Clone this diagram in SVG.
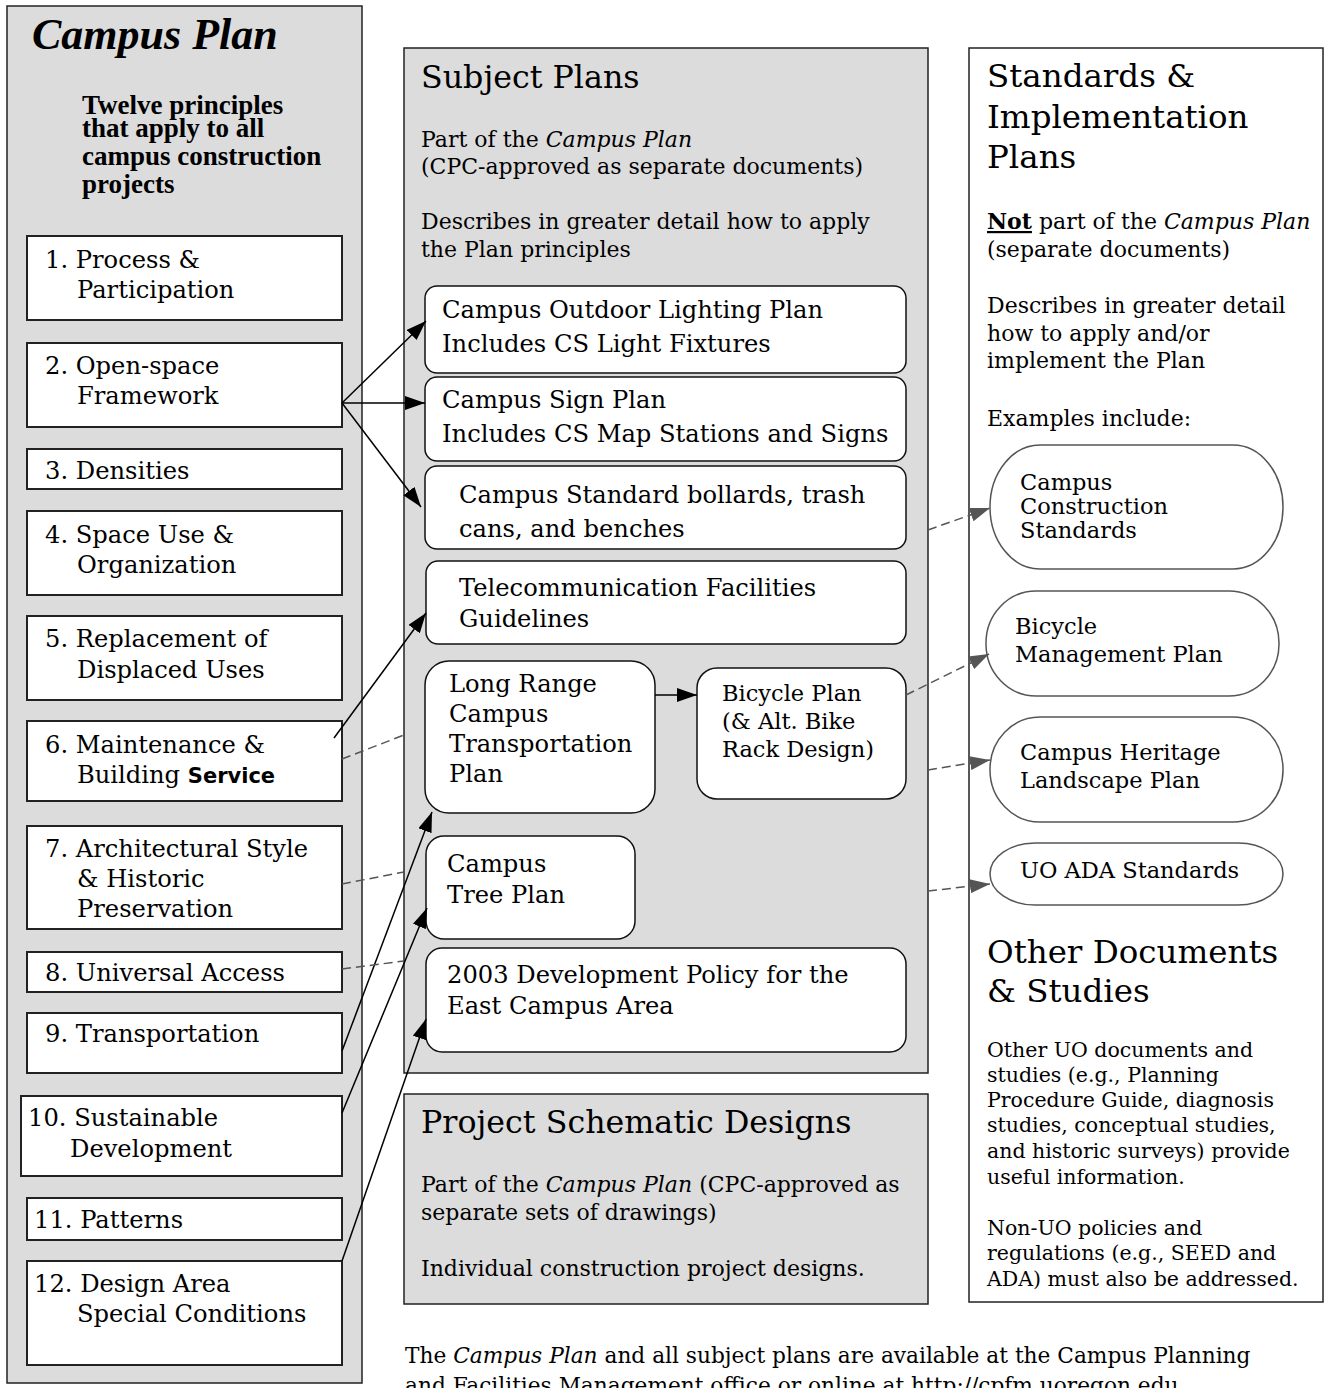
<svg xmlns="http://www.w3.org/2000/svg" width="1326" height="1388" viewBox="0 0 1326 1388">
<style>
text{font-family:"DejaVu Serif","Liberation Serif",serif;fill:#000}
.title{font-family:"Liberation Serif",serif;font-weight:bold;font-style:italic;font-size:44px}
.intro{font-family:"Liberation Serif",serif;font-weight:bold;font-size:27px}
.h{font-size:32.5px}
.h2{font-size:31.7px}
.b{font-size:24.2px}
.d{font-size:22px}
.n{font-size:21.7px}
.o{font-size:22.5px}
.s{font-size:20.5px}
.panel{fill:#dcdcdc;stroke:#222;stroke-width:1.5}
.wpanel{fill:#fff;stroke:#222;stroke-width:1.5}
.sq{fill:#fff;stroke:#222;stroke-width:2}
.rb{fill:#fff;stroke:#111;stroke-width:1.5}
.ov{fill:#fff;stroke:#555;stroke-width:1.5}
.arr{stroke:#000;stroke-width:1.5;fill:none;marker-end:url(#ah)}
.dash{stroke:#555;stroke-width:1.5;fill:none;stroke-dasharray:9 5}
.darr{stroke:#555;stroke-width:1.5;fill:none;stroke-dasharray:9 5;marker-end:url(#ahg)}
</style>
<defs>
<marker id="ah" viewBox="0 0 20 14" refX="20" refY="7" markerWidth="20" markerHeight="14" markerUnits="userSpaceOnUse" orient="auto"><path d="M0,0 L20,7 L0,14 z" fill="#000"/></marker>
<marker id="ahg" viewBox="0 0 20 14" refX="20" refY="7" markerWidth="20" markerHeight="14" markerUnits="userSpaceOnUse" orient="auto"><path d="M0,0 L20,7 L0,14 z" fill="#555"/></marker>
</defs>
<rect width="1326" height="1388" fill="#fff"/>

<g id="campus-plan">
<rect class="panel" x="7" y="6" width="355" height="1377"/>
<text class="title" x="32" y="49">Campus Plan</text>
<text class="intro" x="82" y="114">Twelve principles</text>
<text class="intro" x="82" y="137">that apply to all</text>
<text class="intro" x="82" y="165">campus construction</text>
<text class="intro" x="82" y="193">projects</text>
</g>

<g id="p1"><rect class="sq" x="27" y="236" width="315" height="84"/><text class="b" x="45" y="268">1. Process &amp;</text><text class="b" x="77" y="298">Participation</text></g>
<g id="p2"><rect class="sq" x="27" y="343" width="315" height="84"/><text class="b" x="45" y="374">2. Open-space</text><text class="b" x="77" y="404">Framework</text></g>
<g id="p3"><rect class="sq" x="27" y="449" width="315" height="40"/><text class="b" x="45" y="479">3. Densities</text></g>
<g id="p4"><rect class="sq" x="27" y="511" width="315" height="84"/><text class="b" x="45" y="543">4. Space Use &amp;</text><text class="b" x="77" y="573">Organization</text></g>
<g id="p5"><rect class="sq" x="27" y="616" width="315" height="84"/><text class="b" x="45" y="647">5. Replacement of</text><text class="b" x="77" y="678">Displaced Uses</text></g>
<g id="p6"><rect class="sq" x="27" y="721" width="315" height="80"/><text class="b" x="45" y="753">6. Maintenance &amp;</text><text class="b" x="77" y="783">Building <tspan font-family="DejaVu Sans,sans-serif" font-weight="bold" font-size="21px">Service</tspan></text></g>
<g id="p7"><rect class="sq" x="27" y="826" width="315" height="103"/><text class="b" x="45" y="857">7. Architectural Style</text><text class="b" x="77" y="887">&amp; Historic</text><text class="b" x="77" y="917">Preservation</text></g>
<g id="p8"><rect class="sq" x="27" y="952" width="315" height="40"/><text class="b" x="45" y="981">8. Universal Access</text></g>
<g id="p9"><rect class="sq" x="27" y="1013" width="315" height="60"/><text class="b" x="45" y="1042">9. Transportation</text></g>
<g id="p10"><rect class="sq" x="21" y="1096" width="321" height="80"/><text class="b" x="28" y="1126">10. Sustainable</text><text class="b" x="70" y="1157">Development</text></g>
<g id="p11"><rect class="sq" x="27" y="1198" width="315" height="42"/><text class="b" x="34" y="1228">11. Patterns</text></g>
<g id="p12"><rect class="sq" x="27" y="1261" width="315" height="104"/><text class="b" x="34" y="1292">12. Design Area</text><text class="b" x="77" y="1322">Special Conditions</text></g>

<g id="subject-plans">
<rect class="panel" x="404" y="48" width="524" height="1025"/>
<text class="h2" x="421" y="88">Subject Plans</text>
<text class="d" x="421" y="147">Part of the <tspan font-style="italic">Campus Plan</tspan></text>
<text class="d" x="421" y="174">(CPC-approved as separate documents)</text>
<text class="d" x="421" y="229">Describes in greater detail how to apply</text>
<text class="d" x="421" y="257">the Plan principles</text>
</g>

<g id="lighting"><rect class="rb" x="425" y="286" width="481" height="87" rx="12"/><text class="b" x="442" y="318">Campus Outdoor Lighting Plan</text><text class="b" x="442" y="352">Includes CS Light Fixtures</text></g>
<g id="sign"><rect class="rb" x="425" y="377" width="481" height="84" rx="12"/><text class="b" x="442" y="408">Campus Sign Plan</text><text class="b" x="442" y="442">Includes CS Map Stations and Signs</text></g>
<g id="bollards"><rect class="rb" x="425" y="466" width="481" height="83" rx="12"/><text class="b" x="459" y="503">Campus Standard bollards, trash</text><text class="b" x="459" y="537">cans, and benches</text></g>
<g id="telecom"><rect class="rb" x="426" y="561" width="480" height="83" rx="12"/><text class="b" x="459" y="596">Telecommunication Facilities</text><text class="b" x="459" y="627">Guidelines</text></g>
<g id="transport"><rect class="rb" x="425" y="661" width="230" height="152" rx="24"/><text class="b" x="449" y="692">Long Range</text><text class="b" x="449" y="722">Campus</text><text class="b" x="449" y="752">Transportation</text><text class="b" x="449" y="782">Plan</text></g>
<g id="bicycle"><rect class="rb" x="697" y="668" width="209" height="131" rx="20"/><text class="o" x="722" y="701">Bicycle Plan</text><text class="o" x="722" y="729">(&amp; Alt. Bike</text><text class="o" x="722" y="757">Rack Design)</text></g>
<g id="tree"><rect class="rb" x="426" y="836" width="209" height="103" rx="18"/><text class="b" x="447" y="872">Campus</text><text class="b" x="447" y="903">Tree Plan</text></g>
<g id="east-campus"><rect class="rb" x="426" y="948" width="480" height="104" rx="16"/><text class="b" x="447" y="983">2003 Development Policy for the</text><text class="b" x="447" y="1014">East Campus Area</text></g>

<g id="schematic">
<rect class="panel" x="404" y="1094" width="524" height="210"/>
<text class="h2" x="421" y="1133">Project Schematic Designs</text>
<text class="d" x="421" y="1192">Part of the <tspan font-style="italic">Campus Plan</tspan> (CPC-approved as</text>
<text class="d" x="421" y="1220">separate sets of drawings)</text>
<text class="d" x="421" y="1276">Individual construction project designs.</text>
</g>

<g id="standards">
<rect class="wpanel" x="969" y="48" width="354" height="1254"/>
<text class="h" x="987" y="87">Standards &amp;</text>
<text class="h" x="987" y="128">Implementation</text>
<text class="h" x="987" y="168">Plans</text>
<text class="d" x="987" y="229" font-size="21.5px"><tspan font-weight="bold" text-decoration="underline">Not</tspan> part of the <tspan font-style="italic">Campus Plan</tspan></text>
<text class="d" x="987" y="257">(separate documents)</text>
<text class="d" x="987" y="313">Describes in greater detail</text>
<text class="d" x="987" y="341">how to apply and/or</text>
<text class="d" x="987" y="368">implement the Plan</text>
<text class="d" x="987" y="426">Examples include:</text>
<text class="h" x="987" y="963">Other Documents</text>
<text class="h" x="987" y="1002">&amp; Studies</text>
<text class="s" x="987" y="1057">Other UO documents and</text>
<text class="s" x="987" y="1082">studies (e.g., Planning</text>
<text class="s" x="987" y="1107">Procedure Guide, diagnosis</text>
<text class="s" x="987" y="1132">studies, conceptual studies,</text>
<text class="s" x="987" y="1158">and historic surveys) provide</text>
<text class="s" x="987" y="1184">useful information.</text>
<text class="s" x="987" y="1235">Non-UO policies and</text>
<text class="s" x="987" y="1260">regulations (e.g., SEED and</text>
<text class="s" x="987" y="1286">ADA) must also be addressed.</text>
</g>

<g id="construction-standards"><rect class="ov" x="990" y="445" width="293" height="124" rx="50" ry="62"/><text class="o" x="1020" y="490">Campus</text><text class="o" x="1020" y="514">Construction</text><text class="o" x="1020" y="538">Standards</text></g>
<g id="bicycle-management"><rect class="ov" x="986" y="591" width="293" height="105" rx="50" ry="52"/><text class="o" x="1015" y="634">Bicycle</text><text class="o" x="1015" y="662">Management Plan</text></g>
<g id="heritage"><rect class="ov" x="990" y="717" width="293" height="105" rx="50" ry="52"/><text class="o" x="1020" y="760">Campus Heritage</text><text class="o" x="1020" y="788">Landscape Plan</text></g>
<g id="ada"><rect class="ov" x="990" y="843" width="293" height="62" rx="45" ry="31"/><text class="o" x="1020" y="878">UO ADA Standards</text></g>

<g id="note">
<text class="n" x="405" y="1363">The <tspan font-style="italic">Campus Plan</tspan> and all subject plans are available at the Campus Planning</text>
<text class="n" x="405" y="1393">and Facilities Management office or online at http://cpfm.uoregon.edu</text>
</g>

<g id="connectors">
<line class="arr" x1="342" y1="403" x2="426" y2="321"/>
<line class="arr" x1="342" y1="403" x2="425" y2="403"/>
<line class="arr" x1="342" y1="403" x2="421" y2="507"/>
<line class="arr" x1="334" y1="738" x2="426" y2="613"/>
<line class="arr" x1="342" y1="1051" x2="432" y2="812"/>
<line class="arr" x1="342" y1="1113" x2="427" y2="908"/>
<line class="arr" x1="342" y1="1261" x2="426" y2="1019"/>
<line class="arr" x1="655" y1="695" x2="697" y2="695"/>
<line class="dash" x1="342" y1="759" x2="404" y2="735"/>
<line class="dash" x1="342" y1="884" x2="404" y2="872"/>
<line class="dash" x1="342" y1="969" x2="404" y2="961"/>
<line class="darr" x1="928" y1="530" x2="990" y2="508"/>
<line class="darr" x1="906" y1="695" x2="989" y2="654"/>
<line class="darr" x1="928" y1="770" x2="990" y2="760"/>
<line class="darr" x1="928" y1="891" x2="990" y2="884"/>
</g>
</svg>
